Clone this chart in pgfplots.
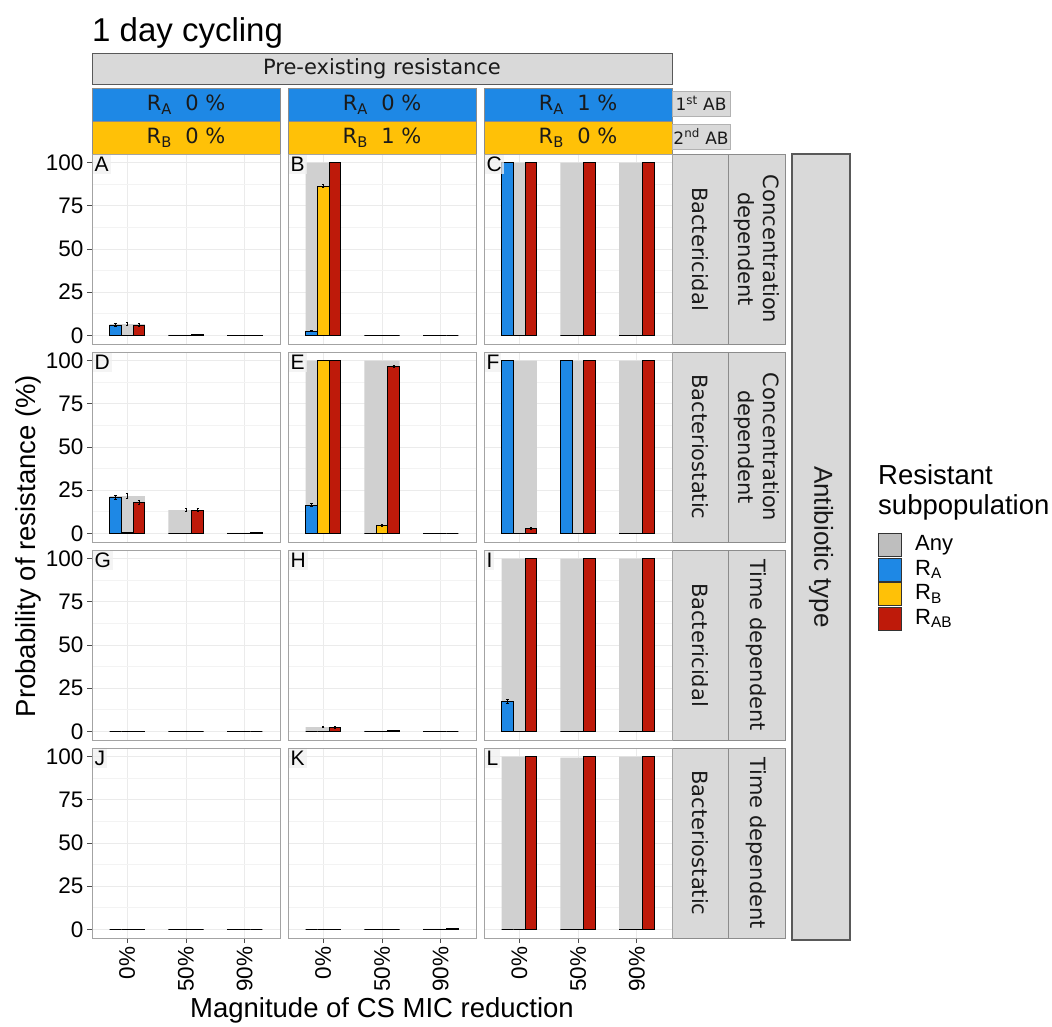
\documentclass[border=0pt]{standalone}
\usepackage{pgfplots}
\pgfplotsset{compat=1.18}
\usepackage{pgfplotstable}
\usepackage{fontspec}
\setmainfont{Liberation Sans}
\newfontfamily\stripfont{DejaVu Sans}

\definecolor{cAny}{HTML}{D0D0D0}
\definecolor{cAnyKey}{HTML}{BEBEBE}
\definecolor{cRA}{HTML}{1E88E5}
\definecolor{cRB}{HTML}{FFC107}
\definecolor{cRAB}{HTML}{BE1A0A}
\definecolor{stripfill}{HTML}{D9D9D9}
\definecolor{stripline}{HTML}{8C8C8C}
\definecolor{stripdark}{HTML}{595959}
\definecolor{panelline}{HTML}{A3A3A3}
\definecolor{gridc}{HTML}{EBEBEB}
\definecolor{txt}{HTML}{1A1A1A}

% Probability of resistance (%) per CS MIC reduction level (x = 1,2,3 for 0%, 50%, 90%)
\pgfplotstableread{
x  Any   RA    RB    RAB   eAny eRA eRB eRAB
1  6.5   6.0   0     6.0   1.0  0.8 0   0.8
2  0.3   0     0     0.3   0    0   0   0
3  0.2   0     0     0.2   0    0   0   0
}\tabA
\pgfplotstableread{
x  Any   RA    RB    RAB   eAny eRA eRB eRAB
1  100   2.5   86.4  100   0    0.5 1.0 0
2  0     0     0     0     0    0   0   0
3  0     0     0     0     0    0   0   0
}\tabB
\pgfplotstableread{
x  Any   RA    RB    RAB   eAny eRA eRB eRAB
1  100   100   0     100   0    0   0   0
2  100   0     0     100   0    0   0   0
3  100   0     0     100   0    0   0   0
}\tabC
\pgfplotstableread{
x  Any   RA    RB    RAB   eAny eRA eRB eRAB
1  21.5  21.0  0.5   18.0  1.5  1.2 0.3 1.2
2  13.5  0     0     13.5  1.0  0   0   1.0
3  0.3   0     0     0.3   0    0   0   0
}\tabD
\pgfplotstableread{
x  Any   RA    RB    RAB   eAny eRA eRB eRAB
1  100   16.4  100   100   0    1.0 0   0
2  100   0     4.6   96.7  0    0   0.7 0.5
3  0     0     0     0     0    0   0   0
}\tabE
\pgfplotstableread{
x  Any   RA    RB    RAB   eAny eRA eRB eRAB
1  100   100   0     2.7   0    0   0   0.5
2  100   100   0     100   0    0   0   0
3  100   0     0     100   0    0   0   0
}\tabF
\pgfplotstableread{
x  Any   RA    RB    RAB   eAny eRA eRB eRAB
1  0     0     0     0     0    0   0   0
2  0     0     0     0     0    0   0   0
3  0     0     0     0     0    0   0   0
}\tabG
\pgfplotstableread{
x  Any   RA    RB    RAB   eAny eRA eRB eRAB
1  2.5   0     0     2.2   0.5  0   0   0.5
2  0.3   0     0     0.3   0    0   0   0
3  0     0     0     0     0    0   0   0
}\tabH
\pgfplotstableread{
x  Any   RA    RB    RAB   eAny eRA eRB eRAB
1  100   17.1  0     100   0    1.2 0   0
2  100   0     0     100   0    0   0   0
3  100   0     0     100   0    0   0   0
}\tabI
\pgfplotstableread{
x  Any   RA    RB    RAB   eAny eRA eRB eRAB
1  0     0     0     0     0    0   0   0
2  0     0     0     0     0    0   0   0
3  0     0     0     0     0    0   0   0
}\tabJ
\pgfplotstableread{
x  Any   RA    RB    RAB   eAny eRA eRB eRAB
1  0     0     0     0     0    0   0   0
2  0     0     0     0     0    0   0   0
3  0.3   0     0     0.3   0    0   0   0
}\tabK
\pgfplotstableread{
x  Any   RA    RB    RAB   eAny eRA eRB eRAB
1  100   0     0     100   0    0   0   0
2  99.5  0     0     100   0    0   0   0
3  100   0     0     100   0    0   0   0
}\tabL

\pgfplotsset{
  panel/.style={
    scale only axis, width=188pt, height=190pt,
    xmin=0.4, xmax=3.6, ymin=-5, ymax=105,
    xtick={1,2,3}, ytick={0,25,50,75,100},
    minor ytick={12.5,37.5,62.5,87.5}, minor tick length=0pt,
    xmajorgrids, ymajorgrids, yminorgrids,
    major grid style={draw=gridc, line width=1pt},
    minor grid style={draw=gridc!60, line width=0.6pt},
    axis line style={draw=panelline, line width=1pt},
    tick pos=left, tick align=outside, major tick length=5pt,
    xtick style={draw=none}, ytick style={draw=none},
    xticklabels={}, yticklabels={},
    tick label style={font=\fontsize{22.5}{22.5}\selectfont, text=black},
    /pgf/number format/assume math mode=true,
    unbounded coords=discard,
    anchor=north west,
  },
  leftcol/.style={yticklabels={0,25,50,75,100},
    ytick style={draw=black!70, line width=1pt}},
  bottomrow/.style={xticklabels={0\%,50\%,90\%},
    xtick style={draw=black!70, line width=1pt},
    xticklabel style={rotate=90, anchor=east}},
  barerr/.style={draw=none, mark=none, forget plot,
    error bars/.cd, y dir=both, y explicit,
    error bar style={draw=black, line width=0.9pt},
    error mark options={draw=black, line width=0.9pt, mark size=1.1pt, rotate=90}},
}

% bars of one panel; error bars only where an error is recorded
\newcommand{\panelbars}[1]{%
  \addplot[ybar, bar width=0.6, fill=cAny, draw=none]
    table[x=x, y=Any] {#1};
  \addplot[barerr] table[x=x, y expr={\thisrow{eAny}>0 ? \thisrow{Any} : nan}, y error=eAny] {#1};
  \addplot[ybar, bar width=0.2, fill=cRA, draw=black, line width=0.9pt]
    table[x expr=\thisrow{x}-0.2, y=RA] {#1};
  \addplot[barerr] table[x expr=\thisrow{x}-0.2, y expr={\thisrow{eRA}>0 ? \thisrow{RA} : nan}, y error=eRA] {#1};
  \addplot[ybar, bar width=0.2, fill=cRB, draw=black, line width=0.9pt]
    table[x=x, y=RB] {#1};
  \addplot[barerr] table[x=x, y expr={\thisrow{eRB}>0 ? \thisrow{RB} : nan}, y error=eRB] {#1};
  \addplot[ybar, bar width=0.2, fill=cRAB, draw=black, line width=0.9pt]
    table[x expr=\thisrow{x}+0.2, y=RAB] {#1};
  \addplot[barerr] table[x expr=\thisrow{x}+0.2, y expr={\thisrow{eRAB}>0 ? \thisrow{RAB} : nan}, y error=eRAB] {#1};
}
\newcommand{\panelletter}[1]{%
  \node[anchor=north west, fill=gray!12, fill opacity=0.75, text opacity=1,
    inner sep=2pt, font=\fontsize{21}{21}\selectfont, text=black]
    at (rel axis cs:0.002,0.995) {#1};
}

\tikzset{
  strip/.style={fill=stripfill, draw=stripline, line width=0.8pt},
  striptext/.style={font=\stripfont\fontsize{21}{25}\selectfont, text=txt},
}

\begin{document}
\begin{tikzpicture}
\path[use as bounding box] (0pt,0pt) rectangle (1052pt,-1026pt);

\begin{scope}[x=1pt, y=1pt]
% title
\node[anchor=base west, font=\fontsize{33}{33}\selectfont, inner sep=0pt] at (92,-41) {1 day cycling};

% column strips
\draw[fill=stripfill, draw=stripdark, line width=1pt] (92,-53) rectangle (672,-84);
\node[striptext] at (382,-68.5) {Pre-existing resistance};
\foreach \cx/\ra/\rb in {92/0/0, 288/0/1, 484/1/0}{
  \draw[fill=cRA, draw=stripline, line width=0.6pt] (\cx,-88) rectangle (\cx+188,-121);
  \draw[fill=cRB, draw=stripline, line width=0.6pt] (\cx,-121) rectangle (\cx+188,-154);
  \node[striptext] at (\cx+94,-104.5) {R\textsubscript{A}\ \ \ra\ \%};
  \node[striptext] at (\cx+94,-137.5) {R\textsubscript{B}\ \ \rb\ \%};
}
\draw[fill=stripfill, draw=gray!60, line width=0.6pt] (672,-91) rectangle (730,-116);
\node[font=\stripfont\fontsize{17}{17}\selectfont, text=txt] at (701,-103.5) {1\textsuperscript{st} AB};
\draw[fill=stripfill, draw=gray!60, line width=0.6pt] (672,-124) rectangle (730,-149);
\node[font=\stripfont\fontsize{17}{17}\selectfont, text=txt] at (701,-136.5) {2\textsuperscript{nd} AB};

% row strips
\foreach \ry/\ka/\kb in {154/Bactericidal/{Concentration\\dependent}, 352/Bacteriostatic/{Concentration\\dependent}, 550/Bactericidal/{Time dependent}, 748/Bacteriostatic/{Time dependent}}{
  \draw[strip] (672,-\ry) rectangle (728.5,-\ry-190);
  \draw[strip] (728.5,-\ry) rectangle (785,-\ry-190);
  \node[striptext, rotate=-90] at (700.25,-\ry-95) {\ka};
  \node[striptext, rotate=-90, align=center] at (756.75,-\ry-95) {\kb};
}
\draw[fill=stripfill, draw=stripdark, line width=1.2pt] (792,-154) rectangle (850,-940);
\node[rotate=-90, font=\fontsize{26}{26}\selectfont, text=txt] at (821,-547) {Antibiotic type};

% axis titles
\node[rotate=90, font=\fontsize{27.5}{27.5}\selectfont] at (28,-546) {Probability of resistance (\%)};
\node[font=\fontsize{27.5}{27.5}\selectfont] at (382,-1010) {Magnitude of CS MIC reduction};

% legend
\node[anchor=north west, align=left, font=\fontsize{27.5}{30}\selectfont, inner sep=0pt] at (878,-464) {Resistant\\subpopulation};
\foreach \k/\c/\lab in {0/cAnyKey/Any, 1/cRA/{R\textsubscript{A}}, 2/cRB/{R\textsubscript{B}}, 3/cRAB/{R\textsubscript{AB}}}{
  \draw[fill=\c, draw=black!80, line width=0.8pt] (878.5,-533.5-24.5*\k) rectangle (901.5,-556.5-24.5*\k);
  \node[anchor=west, font=\fontsize{22}{22}\selectfont, inner sep=0pt] at (915,-545-24.5*\k) {\lab};
}
\end{scope}

% panels
\begin{axis}[panel, leftcol, at={(92pt,-154pt)}]
\panelbars{\tabA}\panelletter{A}
\end{axis}
\begin{axis}[panel, at={(288pt,-154pt)}]
\panelbars{\tabB}\panelletter{B}
\end{axis}
\begin{axis}[panel, at={(484pt,-154pt)}]
\panelbars{\tabC}\panelletter{C}
\end{axis}

\begin{axis}[panel, leftcol, at={(92pt,-352pt)}]
\panelbars{\tabD}\panelletter{D}
\end{axis}
\begin{axis}[panel, at={(288pt,-352pt)}]
\panelbars{\tabE}\panelletter{E}
\end{axis}
\begin{axis}[panel, at={(484pt,-352pt)}]
\panelbars{\tabF}\panelletter{F}
\end{axis}

\begin{axis}[panel, leftcol, at={(92pt,-550pt)}]
\panelbars{\tabG}\panelletter{G}
\end{axis}
\begin{axis}[panel, at={(288pt,-550pt)}]
\panelbars{\tabH}\panelletter{H}
\end{axis}
\begin{axis}[panel, at={(484pt,-550pt)}]
\panelbars{\tabI}\panelletter{I}
\end{axis}

\begin{axis}[panel, leftcol, bottomrow, at={(92pt,-748pt)}]
\panelbars{\tabJ}\panelletter{J}
\end{axis}
\begin{axis}[panel, bottomrow, at={(288pt,-748pt)}]
\panelbars{\tabK}\panelletter{K}
\end{axis}
\begin{axis}[panel, bottomrow, at={(484pt,-748pt)}]
\panelbars{\tabL}\panelletter{L}
\end{axis}
\end{tikzpicture}
\end{document}
